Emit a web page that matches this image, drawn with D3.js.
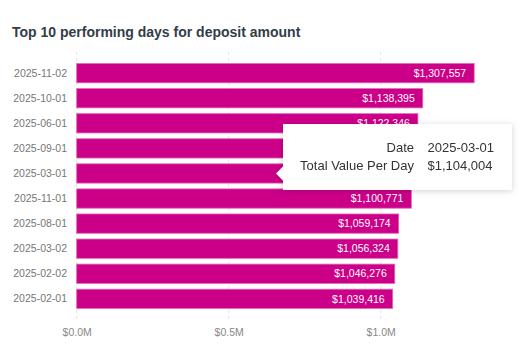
<!DOCTYPE html>
<html>
<head>
<meta charset="utf-8">
<script src="https://cdn.jsdelivr.net/npm/d3@7"></script>
<style>
  body { margin: 0; background: #fff; }
  text { font-family: "Liberation Sans", Arial, Helvetica, sans-serif; }
</style>
</head>
<body>
<svg width="520" height="361"></svg>
<script>
// top 10 days, biggest first
var days = ["2025-11-02", "2025-10-01", "2025-06-01", "2025-09-01", "2025-03-01",
            "2025-11-01", "2025-08-01", "2025-03-02", "2025-02-02", "2025-02-01"];
var totals = [1307557, 1138395, 1122346, 1114900, 1104004,
              1100771, 1059174, 1056324, 1046276, 1039416];
var xTicks = [0, 500000, 1000000];
var hovered = 4; // tooltip shown for this row

var data = days.map(function(d, i) { return {day: d, value: totals[i]}; });

var svg = d3.select("svg");

var x = d3.scaleLinear()
    .domain([0, 1000000])
    .range([76.7, 380.7]);

var y = d3.scaleBand()
    .domain(days)
    .range([60.5, 311.5])
    .paddingInner(0.23)
    .paddingOuter(0.12);

var money = d3.format("$,.0f");

// title
svg.append("text")
    .attr("x", 12)
    .attr("y", 37)
    .attr("fill", "#333d47")
    .attr("font-size", 14)
    .attr("font-weight", "bold")
    .text("Top 10 performing days for deposit amount");

// grid
svg.append("g")
  .selectAll("line")
  .data(xTicks)
  .enter().append("line")
    .attr("x1", function(d) { return x(d); })
    .attr("x2", function(d) { return x(d); })
    .attr("y1", 52)
    .attr("y2", 320)
    .attr("stroke", "#e3e3e3")
    .attr("stroke-dasharray", "3,3");

// x axis
var xAxis = svg.append("g")
    .attr("transform", "translate(0,321)")
    .call(d3.axisBottom(x).tickValues(xTicks).tickSize(0).tickPadding(8)
      .tickFormat(function(d) { return "$" + (d / 1e6).toFixed(1) + "M"; }));
xAxis.select(".domain").remove();
xAxis.selectAll("text")
    .attr("fill", "#888")
    .attr("font-size", 10.5)
    .attr("font-family", "'Liberation Sans', Arial, sans-serif");

// y axis
var yAxis = svg.append("g")
    .attr("transform", "translate(67,0)")
    .call(d3.axisLeft(y).tickSize(0).tickPadding(0));
yAxis.select(".domain").remove();
yAxis.selectAll("text")
    .attr("fill", "#777")
    .attr("font-size", 10.5)
    .attr("font-family", "'Liberation Sans', Arial, sans-serif");

// bars
svg.append("g")
  .selectAll("rect")
  .data(data)
  .enter().append("rect")
    .attr("x", x(0))
    .attr("y", function(d) { return y(d.day); })
    .attr("width", function(d) { return x(d.value) - x(0); })
    .attr("height", y.bandwidth())
    .attr("fill", "#cc0088")
    .attr("stroke", "#e06ab4")
    .attr("stroke-width", 0.8);

// value labels
svg.append("g")
  .selectAll("text")
  .data(data)
  .enter().append("text")
    .attr("x", function(d) { return x(d.value) - 8; })
    .attr("y", function(d) { return y(d.day) + y.bandwidth() / 2; })
    .attr("dy", "0.35em")
    .attr("text-anchor", "end")
    .attr("fill", "#fff")
    .attr("font-size", 10.5)
    .text(function(d) { return money(d.value); });

// tooltip
var defs = svg.append("defs");
var f = defs.append("filter").attr("id", "shadow")
    .attr("x", "-20%").attr("y", "-40%").attr("width", "140%").attr("height", "180%");
f.append("feDropShadow")
    .attr("dx", 0).attr("dy", 1).attr("stdDeviation", 3)
    .attr("flood-color", "#000").attr("flood-opacity", 0.18);

var hd = data[hovered];
var tipY = y(hd.day) + y.bandwidth() / 2;
var tip = svg.append("g").attr("filter", "url(#shadow)");
var bx = 283, by = 124, bw = 229, bh = 66;
tip.append("path")
    .attr("d", "M" + bx + "," + by + "H" + (bx + bw) + "V" + (by + bh) + "H" + bx +
      "V" + (tipY + 7) + "L" + (bx - 7) + "," + tipY + "L" + bx + "," + (tipY - 7) + "Z")
    .attr("fill", "#fff");

var rows = [["Date", hd.day], ["Total Value Per Day", money(hd.value)]];
rows.forEach(function(r, i) {
  tip.append("text")
      .attr("x", 414)
      .attr("y", 152 + i * 17.5)
      .attr("text-anchor", "end")
      .attr("fill", "#333")
      .attr("font-size", 13)
      .text(r[0]);
  tip.append("text")
      .attr("x", 427.5)
      .attr("y", 152 + i * 17.5)
      .attr("fill", "#333")
      .attr("font-size", 13)
      .text(r[1]);
});
</script>
</body>
</html>
